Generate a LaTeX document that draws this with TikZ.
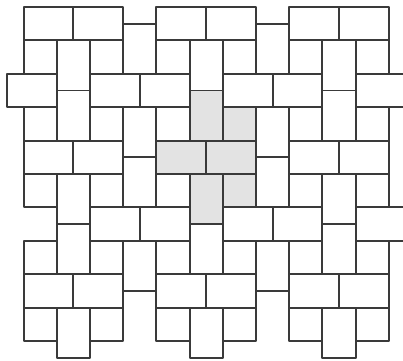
\documentclass[tikz,border=0pt]{standalone}
\usepackage{tikz}
\definecolor{jointgray}{HTML}{3A3A3A}
\definecolor{paveshade}{HTML}{E3E3E3}

\begin{document}
\begin{tikzpicture}[
x=4.15mm,y=-4.175mm,
tile/.style={draw=jointgray,fill=white,line width=1.4pt,line join=round},
shaded/.style={tile,fill=paveshade}
]
\useasboundingbox (-0.42,-0.42) rectangle (23.86,21.14);

% horizontal pavers (3 x 2)
\foreach \y in {0,8,16}
  \foreach \x in {1,4,9,12,17,20}
    \draw[tile] (\x,\y) rectangle ++(3,2);
\foreach \x in {0,5,8,13,16,21}
  \draw[tile] (\x,4) rectangle ++(3,2);
\foreach \x in {5,8,13,16,21}
  \draw[tile] (\x,12) rectangle ++(3,2);

% upright pavers (2 x 3)
\foreach \x in {3,11,19}
  \foreach \y in {2,5,10,13,18}
    \draw[tile] (\x,\y) rectangle ++(2,3);
\foreach \x in {7,15}
  \foreach \y in {1,6,9,14}
    \draw[tile] (\x,\y) rectangle ++(2,3);

% square pavers
\foreach \x in {1,5,9,13,17,21}
  \foreach \y in {2,6,10,14,18}
    \draw[tile] (\x,\y) rectangle ++(2,2);

% repeating unit
\draw[shaded] (11,5) rectangle ++(2,3);
\draw[shaded] (13,6) rectangle ++(2,2);
\draw[shaded] (9,8) rectangle ++(3,2);
\draw[shaded] (12,8) rectangle ++(3,2);
\draw[shaded] (11,10) rectangle ++(2,3);
\draw[shaded] (13,10) rectangle ++(2,2);
\end{tikzpicture}
\end{document}
